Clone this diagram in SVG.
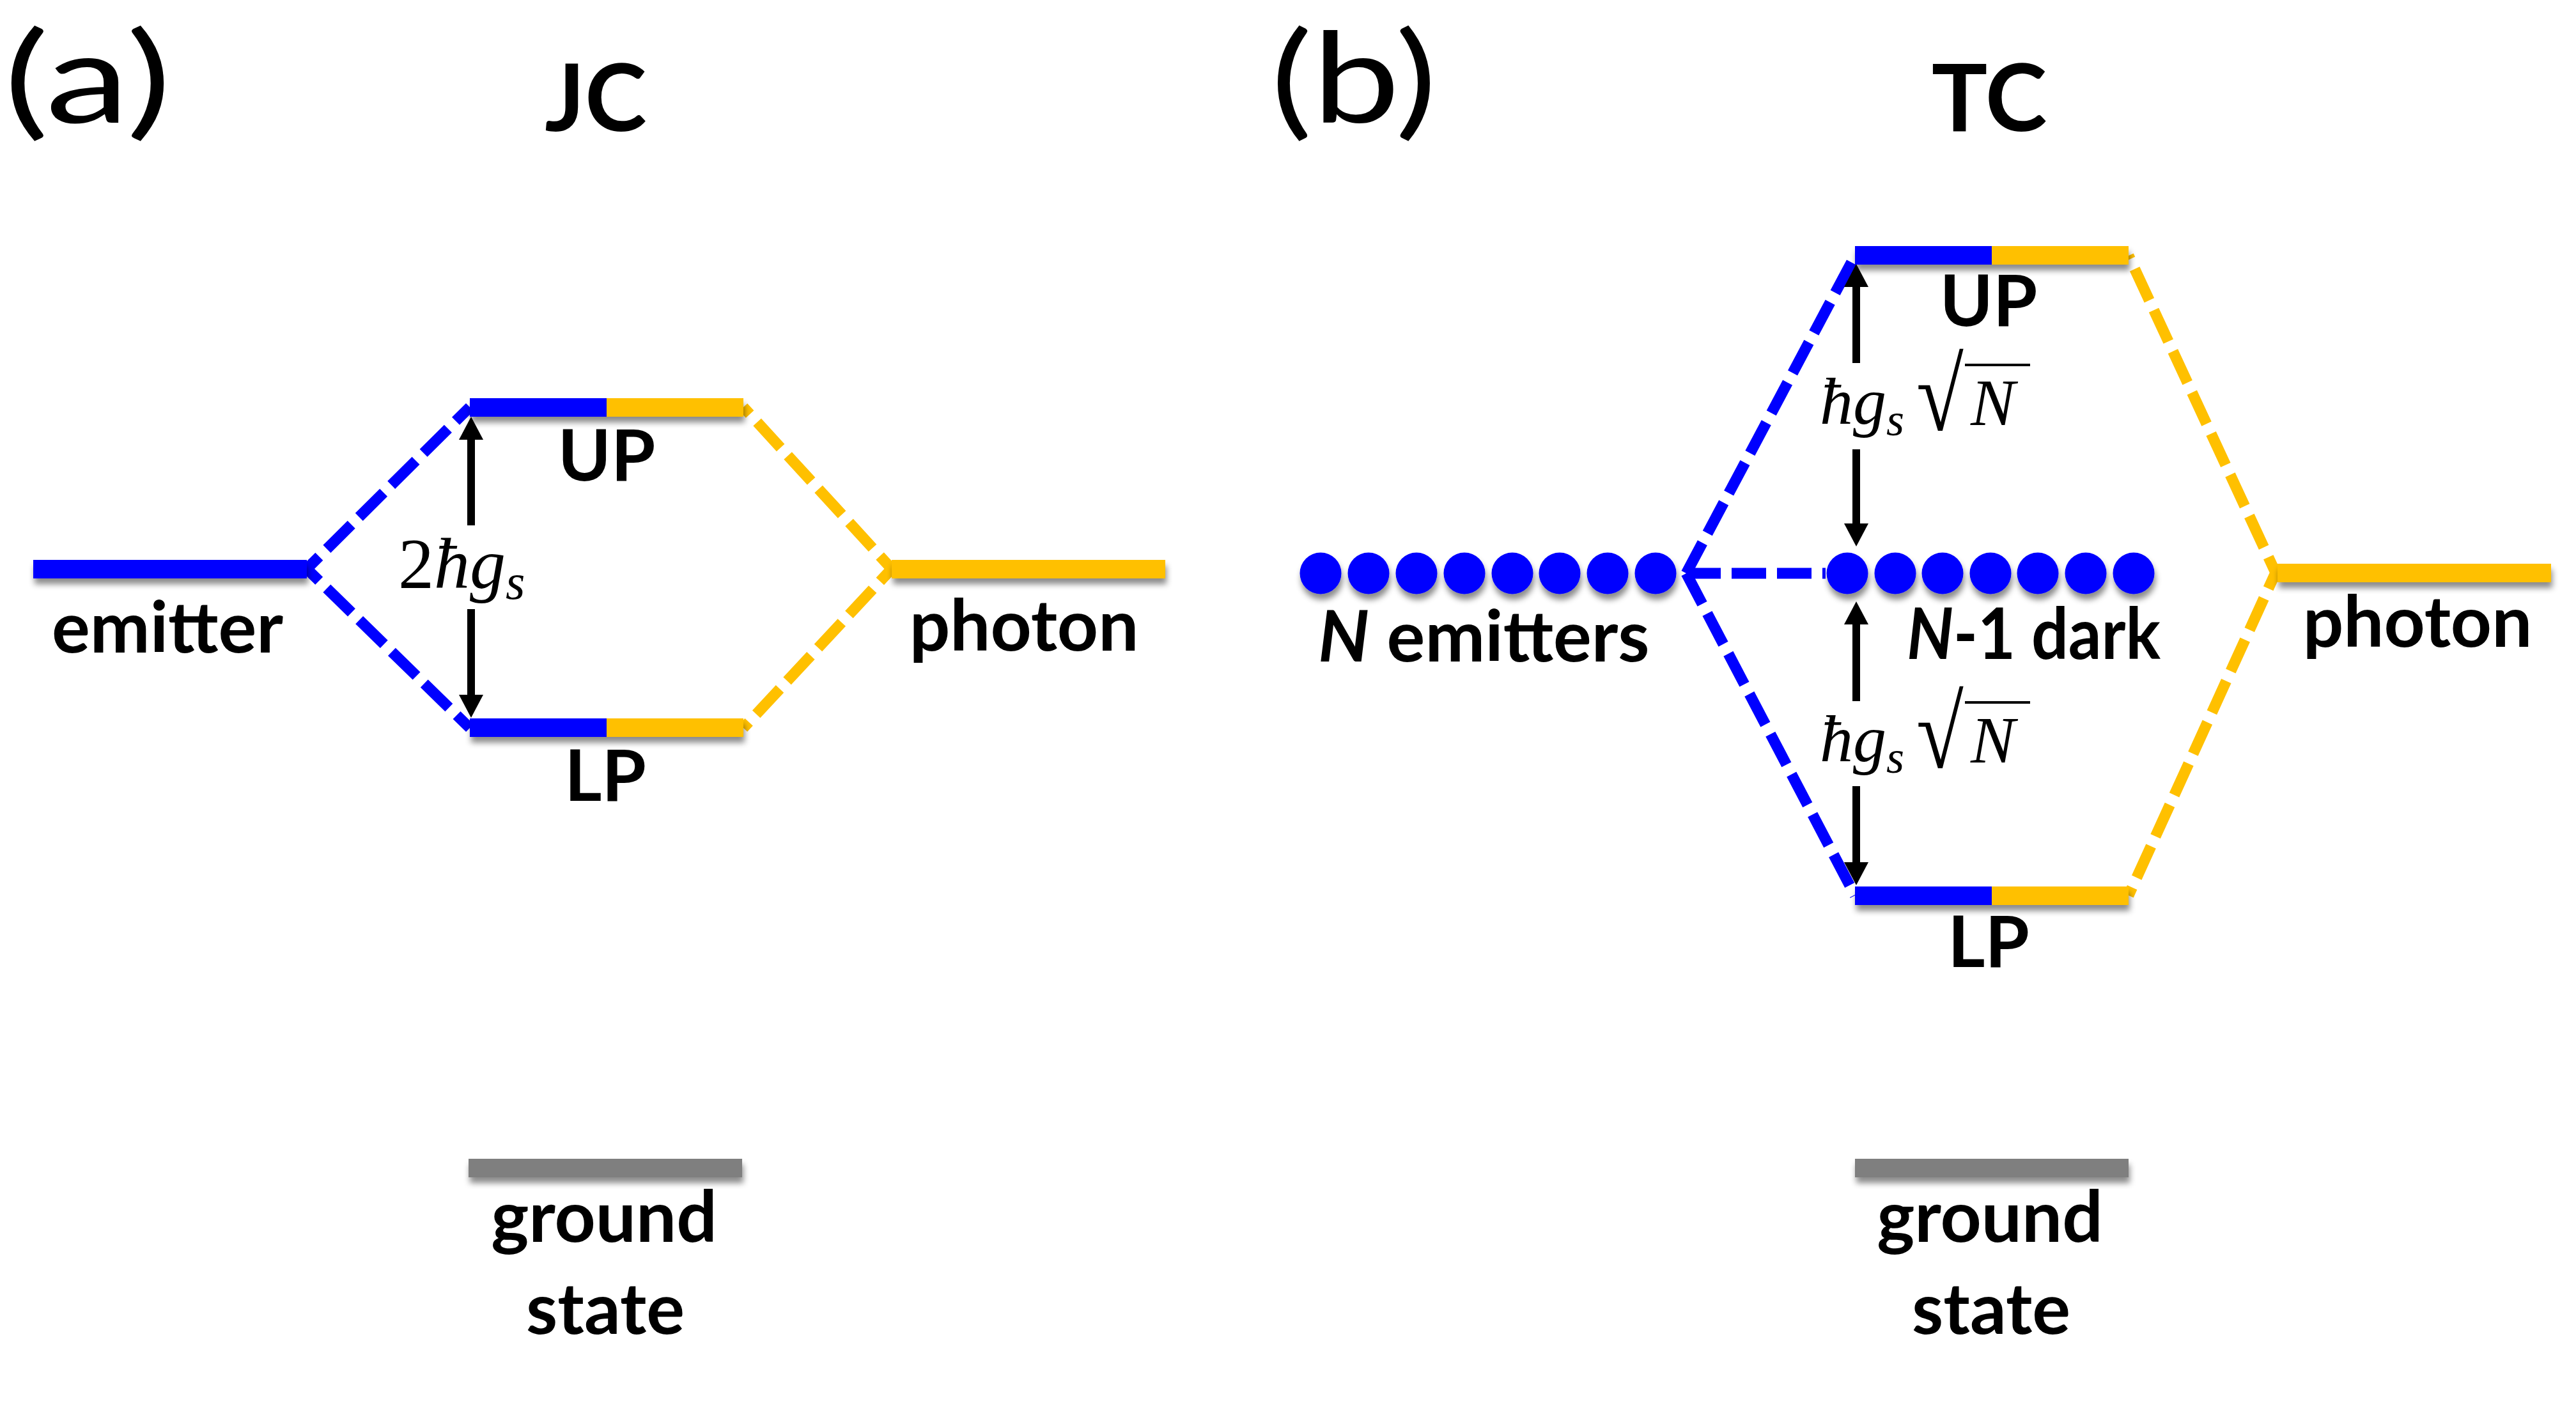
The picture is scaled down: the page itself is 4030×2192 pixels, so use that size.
<svg xmlns="http://www.w3.org/2000/svg" width="4030" height="2192" viewBox="0 0 4030 2192">
<style>
.lbl{font-family:Lato,"Liberation Sans",sans-serif;font-weight:bold;font-size:112px;fill:#000}
.ttl{font-family:Lato,"Liberation Sans",sans-serif;font-weight:bold;font-size:146px;fill:#000}
.pan{font-family:Lato,"Liberation Sans",sans-serif;font-weight:normal;font-size:196px;fill:#000}
.m{font-family:"Liberation Serif","Times New Roman",serif;font-style:italic;font-size:104px;fill:#000}
.m2{font-family:"Liberation Serif","Times New Roman",serif;font-size:112px;fill:#000}
.rad{font-family:"Liberation Serif","DejaVu Serif",serif;font-size:120px;fill:#000}
.blue{fill:#0000FF}
.yel{fill:#FFC000}
.gray{fill:#7F7F7F}
.dashB{fill:none;stroke:#0000FF;stroke-width:17;stroke-dasharray:54 17}
.dashY{fill:none;stroke:#FFC000;stroke-width:17;stroke-dasharray:54 17}
.arr{stroke:#000;stroke-width:12;fill:none;marker-end:url(#ah)}
.vinc{stroke:#000;stroke-width:4}
</style>
<defs>
<filter id="sh" x="-10%" y="-60%" width="120%" height="260%">
<feDropShadow dx="2" dy="9" stdDeviation="5" flood-color="#000" flood-opacity="0.45"/>
</filter>
<marker id="ah" viewBox="0 0 36 38" refX="0" refY="19" markerWidth="36" markerHeight="38" markerUnits="userSpaceOnUse" orient="auto">
<path d="M0,0 L36,19 L0,38 Z" fill="#000"/>
</marker>
</defs>
<rect width="4030" height="2192" fill="#fff"/>

<g id="connectors">
<polyline class="dashB" points="735,637 480,890 735,1139" stroke-dashoffset="23"/>
<polyline class="dashY" points="1163,637 1395,890 1163,1139" stroke-dashoffset="39"/>
<path class="dashB" d="M2638,897 L2902,400"/>
<path class="dashB" d="M2638,897 L2902,1401"/>
<path class="dashB" d="M2638,897 L2856,897"/>
<polyline class="dashY" points="3330,400 3560,896 3330,1401" stroke-dashoffset="48"/>
<line class="arr" x1="737" y1="822" x2="737" y2="688"/>
<line class="arr" x1="737" y1="953" x2="737" y2="1087"/>
<line class="arr" x1="2904" y1="568" x2="2904" y2="449"/>
<line class="arr" x1="2904" y1="703" x2="2904" y2="819"/>
<line class="arr" x1="2904" y1="1097" x2="2904" y2="977"/>
<line class="arr" x1="2904" y1="1230" x2="2904" y2="1349"/>
</g>

<g id="titles">
<text class="pan" x="6" y="192" textLength="262" lengthAdjust="spacingAndGlyphs">(a)</text>
<text class="ttl" x="932" y="205" text-anchor="middle">JC</text>
<text class="pan" x="1988" y="192" textLength="260" lengthAdjust="spacingAndGlyphs">(b)</text>
<text class="ttl" x="3112" y="205" text-anchor="middle">TC</text>
</g>

<g id="a-emitter">
<rect class="blue" x="52" y="876" width="428" height="29" filter="url(#sh)"/>
<text class="lbl" x="262" y="1021" text-anchor="middle">emitter</text>
</g>
<g id="a-photon">
<rect class="yel" x="1395" y="876" width="428" height="29" filter="url(#sh)"/>
<text class="lbl" x="1602" y="1018" text-anchor="middle">photon</text>
</g>
<g id="a-UP">
<g filter="url(#sh)">
<rect class="blue" x="735" y="623" width="214" height="29"/>
<rect class="yel" x="949" y="623" width="214" height="29"/>
</g>
<text class="lbl" x="949" y="752" text-anchor="middle">UP</text>
</g>
<g id="a-LP">
<g filter="url(#sh)">
<rect class="blue" x="735" y="1124" width="214" height="29"/>
<rect class="yel" x="949" y="1124" width="214" height="29"/>
</g>
<text class="lbl" x="947" y="1253" text-anchor="middle">LP</text>
</g>
<g id="a-ground">
<rect class="gray" x="733" y="1813" width="428" height="29" filter="url(#sh)"/>
<text class="lbl" x="945" y="1943" text-anchor="middle">ground</text>
<text class="lbl" x="947" y="2087" text-anchor="middle">state</text>
</g>
<g id="a-split">
<text class="m2" x="623" y="920">2<tspan font-style="italic">ħg</tspan><tspan font-style="italic" font-size="78" dy="17">s</tspan></text>
</g>

<g id="b-emitters">
<g class="blue" filter="url(#sh)">
<circle cx="2066" cy="897" r="32.5"/>
<circle cx="2141" cy="897" r="32.5"/>
<circle cx="2216" cy="897" r="32.5"/>
<circle cx="2291" cy="897" r="32.5"/>
<circle cx="2366" cy="897" r="32.5"/>
<circle cx="2440" cy="897" r="32.5"/>
<circle cx="2515" cy="897" r="32.5"/>
<circle cx="2590" cy="897" r="32.5"/>
</g>
<text class="lbl" x="2062" y="1035"><tspan font-style="italic">N</tspan> emitters</text>
</g>
<g id="b-dark">
<g class="blue" filter="url(#sh)">
<circle cx="2890" cy="897" r="32.5"/>
<circle cx="2965" cy="897" r="32.5"/>
<circle cx="3039" cy="897" r="32.5"/>
<circle cx="3114" cy="897" r="32.5"/>
<circle cx="3188" cy="897" r="32.5"/>
<circle cx="3263" cy="897" r="32.5"/>
<circle cx="3338" cy="897" r="32.5"/>
</g>
<text class="lbl" x="2983" y="1031" textLength="397" lengthAdjust="spacingAndGlyphs"><tspan font-style="italic">N</tspan>-1 dark</text>
</g>
<g id="b-photon">
<rect class="yel" x="3563" y="882" width="428" height="29" filter="url(#sh)"/>
<text class="lbl" x="3782" y="1012" text-anchor="middle">photon</text>
</g>
<g id="b-UP">
<g filter="url(#sh)">
<rect class="blue" x="2902" y="385" width="214" height="29"/>
<rect class="yel" x="3116" y="385" width="214" height="29"/>
</g>
<text class="lbl" x="3111" y="510" text-anchor="middle">UP</text>
</g>
<g id="b-LP">
<g filter="url(#sh)">
<rect class="blue" x="2902" y="1387" width="214" height="29"/>
<rect class="yel" x="3116" y="1387" width="214" height="29"/>
</g>
<text class="lbl" x="3111" y="1513" text-anchor="middle">LP</text>
</g>
<g id="b-ground">
<rect class="gray" x="2902" y="1813" width="428" height="29" filter="url(#sh)"/>
<text class="lbl" x="3113" y="1943" text-anchor="middle">ground</text>
<text class="lbl" x="3115" y="2087" text-anchor="middle">state</text>
</g>
<g id="b-split-up">
<text class="m" x="2847" y="663">ħg<tspan font-size="72" dy="18">s</tspan></text>
<text class="rad" transform="translate(2998,673) scale(1.12,1.34)">√</text>
<line class="vinc" x1="3074" y1="571" x2="3176" y2="571"/>
<text class="m" x="3083" y="665">N</text>
</g>
<g id="b-split-low">
<text class="m" x="2847" y="1191">ħg<tspan font-size="72" dy="18">s</tspan></text>
<text class="rad" transform="translate(2998,1201) scale(1.12,1.34)">√</text>
<line class="vinc" x1="3074" y1="1099" x2="3176" y2="1099"/>
<text class="m" x="3083" y="1193">N</text>
</g>
</svg>
